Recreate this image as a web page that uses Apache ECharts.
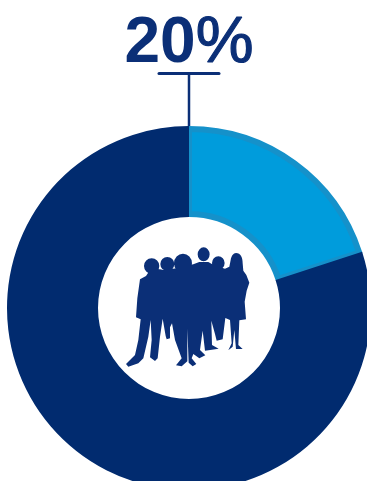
<!DOCTYPE html>
<html>
<head>
<meta charset="utf-8">
<script src="https://cdn.jsdelivr.net/npm/echarts@6/dist/echarts.min.js"></script>
<style>html,body{margin:0;padding:0;background:#fff}#chart{width:367px;height:481px}</style>
</head>
<body>
<div id="chart"></div>
<script>
// Share of the group highlighted by the light segment
const categories = ['Share', 'Remainder'];
const shareValues = [20, 80];

const navy = '#012b6f';
const sky = '#009cdc';
const skyEdge = '#1591ca';
const ink = '#0b2f77';

const centre = [189, 308];

// Group of people standing in the middle of the ring
const crowdPath = [
  'M125 85 a23 23 0 1 1 -.1 0 Z',
  'M172 81 a21 21 0 1 1 -.1 0 Z',
  'M219 71 a27 29 0 1 1 -.1 0 Z',
  'M281 52 a18 21 0 1 1 -.1 0 Z',
  'M325 79 a19 20 0 1 1 -.1 0 Z',
  'M378 69 C392 69 398 82 398 100 L400 122 L409 135 L418 158 L410 182 L404 215 L408 268 L388 271 ' +
  'L385 345 L398 357 L378 357 L373 300 L368 350 L355 361 L365 340 L360 270 L346 264 L338 328 L320 332 ' +
  'L315 312 L304 272 L306 345 L326 356 L285 362 L278 302 L270 360 L286 376 L268 385 L250 372 ' +
  'L245 385 L259 402 L248 409 L236 398 L232 296 L232 394 L215 409 L198 406 L215 385 L195 330 ' +
  'L186 280 L180 292 L180 325 L170 328 L167 318 L158 266 L150 320 L143 385 L135 393 L120 382 ' +
  'L125 330 L122 270 L115 320 L100 385 L85 400 L55 410 L48 402 L75 375 L85 330 L92 268 L78 262 ' +
  'L82 205 L90 148 L108 138 L120 120 L150 118 L160 120 L200 115 L250 103 L268 96 L295 96 ' +
  'L312 106 L345 116 L358 110 L362 90 C364 78 370 69 378 69 Z'
].join(' ');

echarts.graphic.registerShape('crowd', echarts.graphic.extendPath(crowdPath, {}));

const chart = echarts.init(document.getElementById('chart'), null, { renderer: 'canvas' });

// One ring layer; styleFor picks the look of each segment
function ringLayer(radius, styleFor) {
  return {
    type: 'pie',
    center: centre,
    radius,
    startAngle: 90,
    clockwise: true,
    silent: true,
    label: { show: false },
    labelLine: { show: false },
    data: categories.map((name, i) => ({
      name,
      value: shareValues[i],
      itemStyle: styleFor(i)
    }))
  };
}

chart.setOption({
  animation: false,
  backgroundColor: '#ffffff',
  title: {
    text: '{num|' + shareValues[0] + '}{pct|%}',
    left: 184,
    top: 7,
    textAlign: 'center',
    textStyle: {
      rich: {
        num: { fontFamily: 'Liberation Sans', fontWeight: 'bold', fontSize: 64, color: ink },
        pct: { fontFamily: 'Liberation Sans', fontWeight: 'normal', fontSize: 65, color: ink, textBorderColor: ink, textBorderWidth: 1.2 }
      }
    }
  },
  series: [
    // Light segment with its darker inner edge
    ringLayer([94, 179], i => i === 0
      ? { color: sky, borderColor: skyEdge, borderWidth: 6 }
      : { color: 'transparent' }),
    // Dark segment laid over the edge stroke
    ringLayer([91, 182], i => i === 0
      ? { color: 'transparent' }
      : { color: navy })
  ],
  graphic: [
    { type: 'line', shape: { x1: 159, y1: 73.5, x2: 219, y2: 73.5 }, style: { stroke: ink, lineWidth: 3, lineCap: 'round' } },
    { type: 'line', shape: { x1: 189, y1: 73.5, x2: 189, y2: 126 }, style: { stroke: ink, lineWidth: 2.5 } },
    {
      type: 'crowd',
      x: 110,
      y: 230,
      scaleX: 1 / 3,
      scaleY: 1 / 3,
      style: { fill: ink }
    }
  ]
});
</script>
</body>
</html>
